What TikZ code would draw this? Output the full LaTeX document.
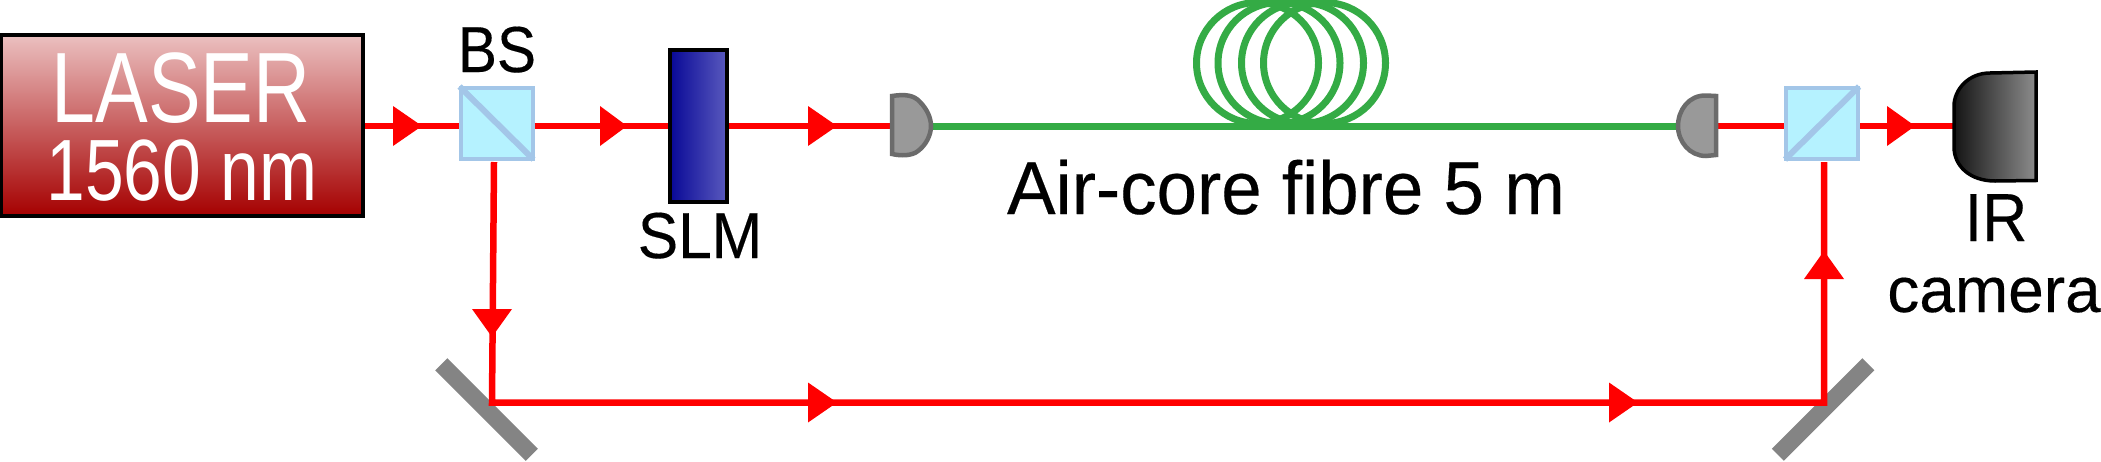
\documentclass[tikz,border=0pt]{standalone}
\usepackage{fontspec}
\setmainfont[Ligatures=NoCommon]{Liberation Sans}
\newfontfamily\lblfont[FakeBold=0.25,Ligatures=NoCommon]{Liberation Sans}
\definecolor{beamred}{RGB}{255,0,0}
\definecolor{fibregreen}{RGB}{52,171,69}
\definecolor{cubefill}{RGB}{181,242,255}
\definecolor{cubeline}{RGB}{163,198,232}
\definecolor{mirrorgrey}{RGB}{132,132,132}
\definecolor{collfill}{RGB}{153,153,153}
\definecolor{collline}{RGB}{107,107,107}
\definecolor{lasertop}{RGB}{235,192,192}
\definecolor{laserbot}{RGB}{165,0,0}
\definecolor{slmleft}{RGB}{8,8,150}
\definecolor{slmright}{RGB}{90,90,190}
\newcommand{\fsz}[1]{\fontsize{#1}{#1}\selectfont}
\tikzset{
  beam/.style={draw=beamred,line width=6.5pt},
  fibre/.style={draw=fibregreen,line width=7pt},
  tipfill/.style={fill=beamred,draw=none},
  cube/.style={draw=cubeline,fill=cubefill,line width=4pt,minimum width=72pt,minimum height=71pt,inner sep=0pt},
  cubediag/.style={draw=cubeline,line width=6pt,line cap=butt},
  mirrorbar/.style={fill=mirrorgrey,draw=none,minimum width=128pt,minimum height=17pt,inner sep=0pt},
  coll/.style={fill=collfill,draw=collline,line width=4.5pt},
  lbl/.style={anchor=base,inner sep=0pt,text=black,font=\lblfont},
  laserlbl/.style={anchor=base,inner sep=0pt,text=white},
}
\begin{document}
\begin{tikzpicture}[x=1pt,y=-1pt]
\useasboundingbox (0,0) rectangle (2101,461);
\node[minimum width=362pt,minimum height=181pt,inner sep=0pt,draw=black,line width=4pt,top color=lasertop,bottom color=laserbot] (laser) at (182,125.5) {};
\node[minimum width=57pt,minimum height=152pt,inner sep=0pt,draw=black,line width=4pt,left color=slmleft,right color=slmright] (slm) at (698.5,126) {};
\node[cube] (bs1) at (496.5,123) {};
\node[cube] (bs2) at (1822,123) {};
\node[mirrorbar,rotate=-45] (m1) at (486.5,409.5) {};
\node[mirrorbar,rotate=45] (m2) at (1823,409.5) {};
\coordinate (c1r) at (931,126);
\coordinate (c1l) at (891,126);
\coordinate (c2l) at (1677,126);
\coordinate (c2r) at (1717,126);
\coordinate (cam) at (1954,126);
\coordinate (b1out) at (494,162);
\coordinate (b2in) at (1824,162);
\coordinate (m1p) at (492,402.5);
\coordinate (m2p) at (1824,402.5);
% beams
\draw[beam] (laser.east |- c1l) -- (bs1.west |- c1l);
\draw[beam] (bs1.east |- c1l) -- (slm.west |- c1l);
\draw[beam] (slm.east |- c1l) -- (c1l);
\draw[beam] (c2r) -- (bs2.west |- c2r);
\draw[beam] (bs2.east |- c2r) -- (cam);
\draw[beam,line join=miter] (b1out) -- (m1p) -- (m2p) -- (b2in);
% fibre
\draw[fibre] (c1r) -- (c2l);
\foreach \cx in {1257.5,1279,1302.5,1324.5}
  \draw[draw=fibregreen,line width=7pt] (\cx,63) circle [x radius=61,y radius=60.5];
% arrow heads
\fill[tipfill] (393,106) -- (422,126) -- (393,146) -- cycle;
\fill[tipfill] (600,106) -- (627,126) -- (600,146) -- cycle;
\fill[tipfill] (808,106) -- (837,126) -- (808,146) -- cycle;
\fill[tipfill] (1887,106) -- (1915,126) -- (1887,146) -- cycle;
\fill[tipfill] (472,309) -- (492,337) -- (512,309) -- cycle;
\fill[tipfill] (808,382.5) -- (837,402.5) -- (808,422.5) -- cycle;
\fill[tipfill] (1609,382.5) -- (1638,402.5) -- (1609,422.5) -- cycle;
\fill[tipfill] (1804,279) -- (1824,251) -- (1844,279) -- cycle;
% beam splitter diagonals
\draw[cubediag] ([shift={(1,1)}]bs1.north west) -- ([shift={(-1,-1)}]bs1.south east);
\draw[cubediag] ([shift={(1,-1)}]bs2.south west) -- ([shift={(-1,1)}]bs2.north east);
% collimators and camera
\path[coll] (892,96) .. controls (905,94) and (914,95) .. (920,102) .. controls (927,109) and (931,118) .. (931,126) .. controls (931,135) and (926,145) .. (918,151) .. controls (912,156) and (901,156) .. (892,154) -- cycle;
\path[coll] (1716,96) -- (1706,95.5) .. controls (1689,95) and (1678,110) .. (1678,126) .. controls (1678,142) and (1690,156) .. (1706,156) -- (1716,155) -- cycle;
\path[draw=black,line width=3.5pt,left color=black!92,right color=black!45] (2036,72) -- (1990,73) .. controls (1968,73) and (1954,90) .. (1954,106) -- (1954,147) .. controls (1954,166) and (1970,181) .. (1995,181) -- (2036,180.5) -- cycle;
% texts
\node[laserlbl] (t1) at (181,122) {\fsz{100}\scalebox{.79}[1]{LASER}};
\node[laserlbl] (t2) at (182,200) {\fsz{87}\scalebox{.8}[1]{1560 nm}};
\node[lbl] (t3) at (497,72) {\fsz{65}\scalebox{.9}[1]{BS}};
\node[lbl] (t4) at (700,258) {\fsz{65}\scalebox{.93}[1]{SLM}};
\node[lbl] (t5) at (1286,214) {\fsz{75}\scalebox{.97}[1]{Air-core fibre 5 m}};
\node[lbl] (t6) at (1996,241) {\fsz{68}\scalebox{.92}[1]{IR}};
\node[lbl] (t7) at (1994,312) {\fsz{64}camera};
\end{tikzpicture}
\end{document}
